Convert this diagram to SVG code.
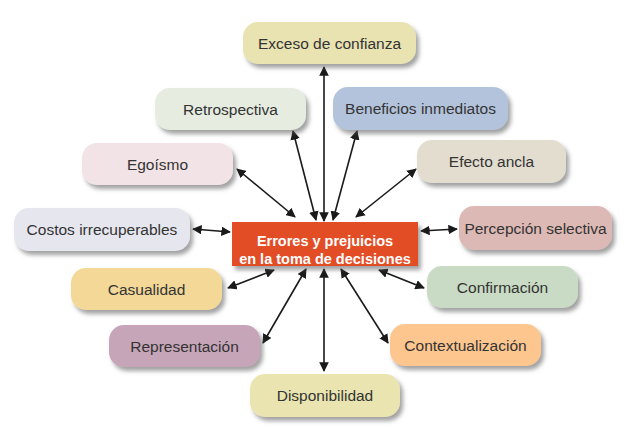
<svg xmlns="http://www.w3.org/2000/svg" width="639" height="447" viewBox="0 0 639 447">
<style>
.n rect{filter:url(#sh)}
.n text{font-family:"Liberation Sans Narrow","Liberation Sans",Arial,sans-serif;font-size:15.5px;fill:#333333;text-anchor:middle;dominant-baseline:central}
.c line{stroke:#1a1a1a;stroke-width:1.6;marker-start:url(#ah);marker-end:url(#ah)}
.ct text{font-family:"Liberation Sans Narrow","Liberation Sans",Arial,sans-serif;font-size:14.5px;font-weight:bold;fill:#ffffff;text-anchor:middle}
</style>
<defs>
<filter id="sh" x="-10%" y="-20%" width="130%" height="160%">
<feDropShadow dx="3" dy="4" stdDeviation="2" flood-color="#555" flood-opacity="0.55"/>
</filter>
<marker id="ah" viewBox="0 0 10 10" refX="9" refY="5" markerWidth="6" markerHeight="6" orient="auto-start-reverse" markerUnits="strokeWidth">
<path d="M0,0 L10,5 L0,10 Z" fill="#1a1a1a"/>
</marker>
</defs>
<rect width="639" height="447" fill="#ffffff"/>
<g class="c" id="connectors">
<line x1="324" y1="221" x2="324" y2="67"/>
<line x1="316" y1="220" x2="293" y2="131"/>
<line x1="333" y1="220" x2="357" y2="131"/>
<line x1="295" y1="217" x2="237" y2="169"/>
<line x1="356" y1="217" x2="416" y2="169"/>
<line x1="230" y1="232" x2="193" y2="229"/>
<line x1="421" y1="231" x2="457" y2="229"/>
<line x1="274" y1="270" x2="228" y2="288"/>
<line x1="379" y1="270" x2="424" y2="288"/>
<line x1="306" y1="269" x2="263" y2="343"/>
<line x1="341" y1="269" x2="388" y2="343"/>
<line x1="324" y1="269" x2="324" y2="371"/>
</g>
<g class="n" id="exceso"><rect x="243" y="22" width="173" height="42" rx="15" fill="#E9E3B2"/><text x="329.5" y="43">Exceso de confianza</text></g>
<g class="n" id="retrospectiva"><rect x="155" y="88" width="151" height="42" rx="15" fill="#E6EDE0"/><text x="230.5" y="109">Retrospectiva</text></g>
<g class="n" id="beneficios"><rect x="333" y="87" width="175" height="43" rx="15" fill="#B3C3DC"/><text x="420.5" y="108.5">Beneficios inmediatos</text></g>
<g class="n" id="egoismo"><rect x="82" y="143" width="151" height="42" rx="15" fill="#F2E3E6"/><text x="157.5" y="164">Egoísmo</text></g>
<g class="n" id="ancla"><rect x="417" y="140" width="149" height="43" rx="15" fill="#E3DDD0"/><text x="491.5" y="161.5">Efecto ancla</text></g>
<g class="n" id="costos"><rect x="14" y="208" width="176" height="43" rx="15" fill="#E6E6EF"/><text x="102" y="229.5">Costos irrecuperables</text></g>
<g class="n" id="percepcion"><rect x="459" y="206" width="153" height="44" rx="15" fill="#DDB9B5"/><text x="535.5" y="228">Percepción selectiva</text></g>
<g class="n" id="casualidad"><rect x="71" y="268" width="151" height="42" rx="15" fill="#F3D898"/><text x="146.5" y="289">Casualidad</text></g>
<g class="n" id="confirmacion"><rect x="427" y="266" width="151" height="42" rx="15" fill="#C9DBC4"/><text x="502.5" y="287">Confirmación</text></g>
<g class="n" id="representacion"><rect x="109" y="325" width="151" height="42" rx="15" fill="#C7A5B8"/><text x="184.5" y="346">Representación</text></g>
<g class="n" id="contextualizacion"><rect x="390" y="324" width="151" height="42" rx="15" fill="#FDC68E"/><text x="465.5" y="345">Contextualización</text></g>
<g class="n" id="disponibilidad"><rect x="250" y="374" width="150" height="43" rx="15" fill="#E9E4B0"/><text x="325" y="395.5">Disponibilidad</text></g>
<g class="n ct" id="centro"><rect x="232" y="222" width="186" height="44" fill="#E34E26"/><text x="325" y="241">Errores y prejuicios</text><text x="325" y="259">en la toma de decisiones</text></g>
</svg>
